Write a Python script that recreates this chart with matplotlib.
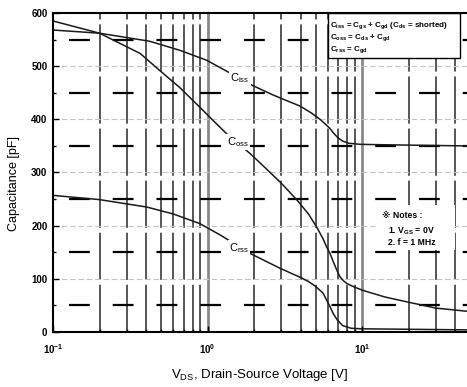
import matplotlib
matplotlib.use("Agg")
import matplotlib.pyplot as plt
from matplotlib.patches import Rectangle
from matplotlib.ticker import LogLocator, MultipleLocator, NullFormatter

plt.rcParams["font.family"] = ["Liberation Sans", "DejaVu Sans"]
plt.rcParams["mathtext.fontset"] = "custom"
plt.rcParams["mathtext.rm"] = "Liberation Sans"
plt.rcParams["mathtext.bf"] = "Liberation Sans:bold"
plt.rcParams["mathtext.default"] = "regular"
plt.rcParams["lines.scale_dashes"] = False

# capacitance curves vs drain-source voltage (V, pF)
ciss_v = [0.1, 0.2, 0.42, 0.66, 0.99, 1.36, 1.88, 2.6, 3.08, 3.97, 4.7, 5.35, 6.2, 6.5, 7.0, 7.5, 8.2, 9.7, 15, 47.8]
ciss_pf = [568, 562, 547, 530, 511, 489, 466, 447, 438, 425, 412, 400, 383, 375, 365, 359, 355, 353, 352, 350]

coss_v = [0.1, 0.2, 0.366, 0.49, 0.66, 0.89, 1.085, 1.34, 1.88, 2.19, 3.0, 3.8, 4.5, 5.1, 5.6, 5.9, 6.2, 6.5, 6.9, 7.2, 7.6, 8.0, 9.0, 10.2, 14, 20, 30, 47.8]
coss_pf = [585, 562, 524, 492, 460, 423, 398, 372, 336, 318, 280, 248, 222, 197, 175, 160, 148, 133, 115, 104, 96, 91, 84, 78, 66, 56, 45, 39]

crss_v = [0.1, 0.2, 0.405, 0.6, 0.89, 1.2, 1.88, 2.94, 3.97, 4.5, 5.0, 5.6, 5.9, 6.2, 6.5, 6.9, 7.5, 8.5, 10, 47.8]
crss_pf = [257, 249, 235, 222, 204, 183, 148, 120, 103, 95, 86, 73, 60, 48, 35, 23, 12, 7, 6, 4]

x_min, x_max = 0.1, 47.8
y_min, y_max = 0, 600

fig = plt.figure(figsize=(4.67, 3.87), dpi=100)
ax = fig.add_axes([53 / 467, 1 - 332 / 387, 1 - 53 / 467, (332 - 13) / 387])
ax.set_xscale("log")
ax.set_xlim(x_min, x_max)
ax.set_ylim(y_min, y_max)

# vertical grid: long dark dashes at 2..9 of every decade, heavier at decades
for dec in [0.1, 1, 10]:
    for m in range(1, 10):
        xv = dec * m
        if xv <= x_min or xv >= x_max:
            continue
        if m == 1:
            ax.axvline(xv, color="#8a8a8a", lw=2.0, zorder=1)
        else:
            ax.axvline(xv, color="#3a3a3a", lw=1.2, ls=(0, (34, 3.5)), zorder=1)

# horizontal grid: light dashes at hundreds, heavy broken dashes at fifties
for yv in range(100, 600, 100):
    ax.axhline(yv, color="#c4c4c4", lw=0.8, ls=(0, (4, 2)), zorder=1)
for yv in range(50, 600, 100):
    ax.axhline(yv, color="black", lw=1.6, ls=(20, (15, 16.5)), zorder=1)

ax.plot(ciss_v, ciss_pf, color="#1a1a1a", lw=1.1, zorder=3)
ax.plot(coss_v, coss_pf, color="#1a1a1a", lw=1.1, zorder=3)
ax.plot(crss_v, crss_pf, color="#1a1a1a", lw=1.1, zorder=3)

lbl_box = dict(facecolor="white", edgecolor="none", pad=0.8)
ax.text(1.62, 477, "$C_{iss}$", fontsize=8, ha="center", va="center", bbox=lbl_box, zorder=4)
ax.text(1.58, 357, "$C_{oss}$", fontsize=8, ha="center", va="center", bbox=lbl_box, zorder=4)
ax.text(1.60, 158, "$C_{rss}$", fontsize=8, ha="center", va="center", bbox=lbl_box, zorder=4)

# definitions box, top right
ax.add_patch(Rectangle((0.664, 0.859), 0.319, 0.141, transform=ax.transAxes,
                       facecolor="white", edgecolor="black", lw=1.0, zorder=5))
defs = ["$C_{iss}$ = $C_{gs}$ + $C_{gd}$ ($C_{ds}$ = shorted)",
        "$C_{oss}$ = $C_{ds}$ + $C_{gd}$",
        "$C_{rss}$ = $C_{gd}$"]
for i, line in enumerate(defs):
    ax.text(0.670, 0.962 - i * 0.039, line, transform=ax.transAxes, fontsize=5.8,
            fontweight="bold", ha="left", va="center", zorder=6)

# test conditions
ax.add_patch(Rectangle((0.785, 0.257), 0.185, 0.141, transform=ax.transAxes,
                       facecolor="white", edgecolor="none", zorder=5))
notes = [(0.795, 0.364, "\u203b Notes :"),
         (0.809, 0.317, "1. $V_{GS}$ = 0V"),
         (0.809, 0.282, "2. f = 1 MHz")]
for nx, ny, line in notes:
    ax.text(nx, ny, line, transform=ax.transAxes, fontsize=6.2, fontweight="bold",
            ha="left", va="center", zorder=6)

ax.xaxis.set_major_locator(LogLocator(base=10))
ax.xaxis.set_minor_locator(LogLocator(base=10, subs=range(2, 10)))
ax.xaxis.set_minor_formatter(NullFormatter())
ax.yaxis.set_major_locator(MultipleLocator(100))
ax.yaxis.set_minor_locator(MultipleLocator(50))

ax.tick_params(which="both", direction="in", labelsize=7, width=1.0)
ax.tick_params(which="major", length=4)
ax.tick_params(which="minor", length=2.5)
ax.tick_params(axis="x", pad=7)
ax.tick_params(axis="y", pad=4)
for lab in ax.get_xticklabels() + ax.get_yticklabels():
    lab.set_fontweight("bold")

for side in ["left", "bottom", "top"]:
    ax.spines[side].set_linewidth(1.5)
    ax.spines[side].set_zorder(7)
ax.spines["right"].set_visible(False)

ax.set_ylabel("Capacitance [pF]", fontsize=9)
ax.yaxis.set_label_coords(-0.08, 0.464)
ax.set_xlabel("$V_{DS}$, Drain-Source Voltage [V]", fontsize=9.5, labelpad=8)

fig.savefig("out.png", dpi=100)
